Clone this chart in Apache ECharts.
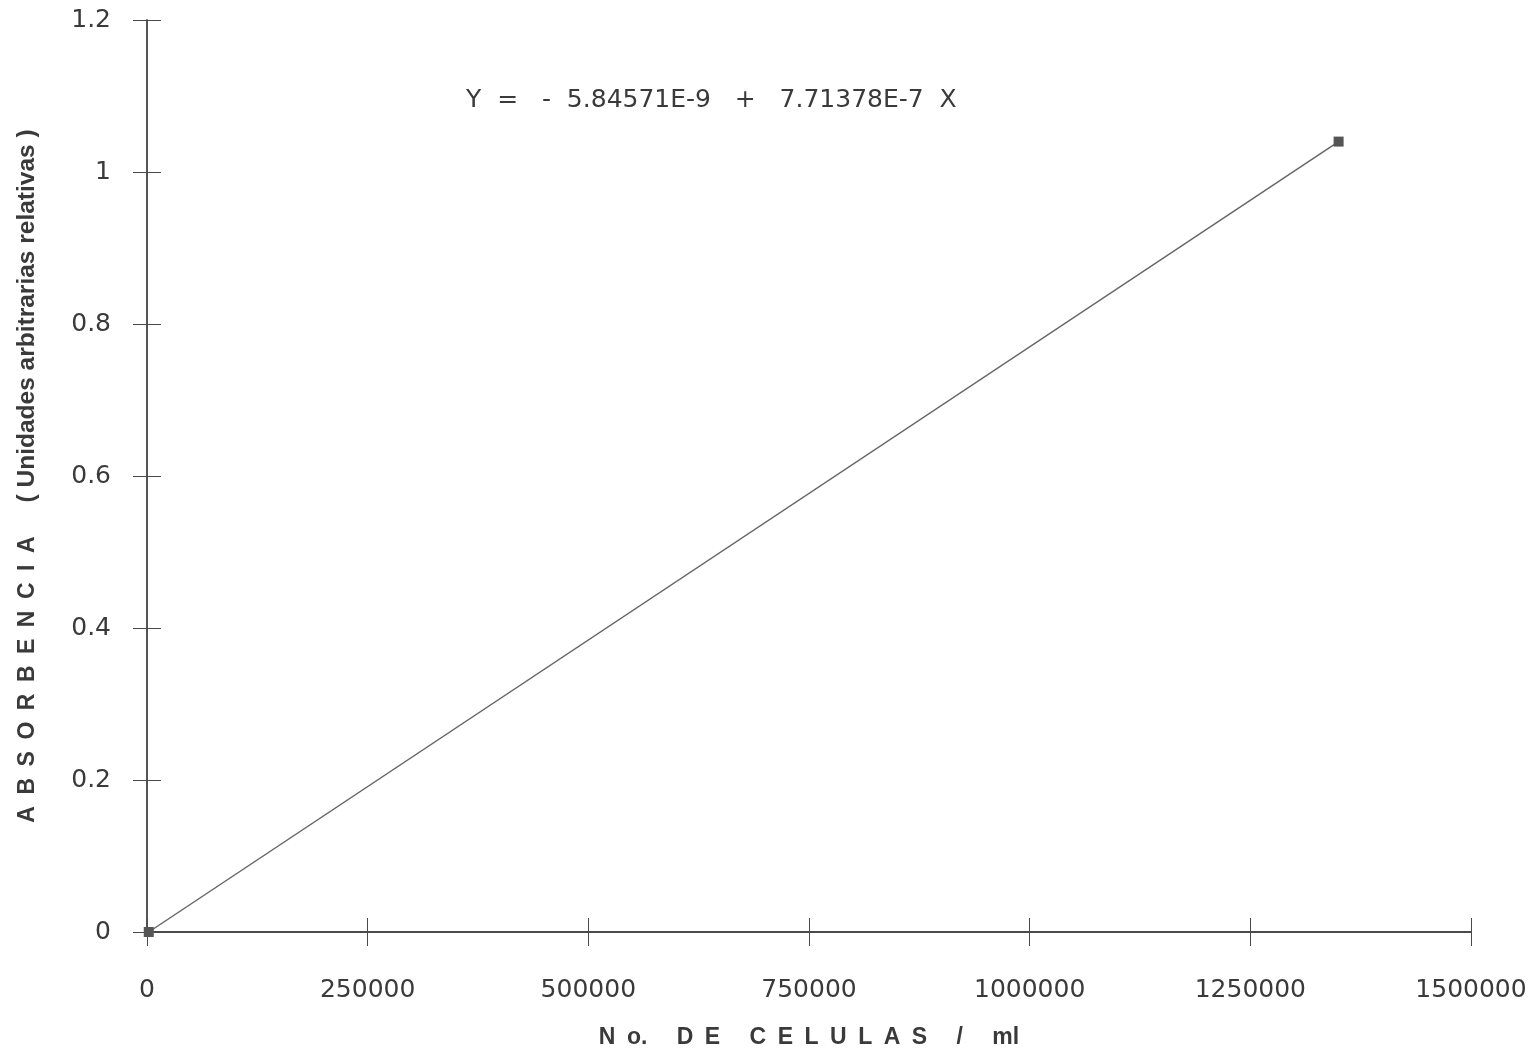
<!DOCTYPE html>
<html>
<head>
<meta charset="utf-8">
<style>
  html, body { margin: 0; padding: 0; background: #fff; }
  #chart { width: 1537px; height: 1054px; }
</style>
<script src="https://cdn.jsdelivr.net/npm/echarts@6/dist/echarts.min.js"></script>
</head>
<body>
<div id="chart"></div>
<script>
// Calibration data: cell count per ml vs. absorbance
const cellCounts = [2000, 1350000];
const absorbance = [0, 1.04];

const xTicks = [0, 250000, 500000, 750000, 1000000, 1250000, 1500000];
const yTicks = [0, 0.2, 0.4, 0.6, 0.8, 1, 1.2];

// Letter-spaced titles: en space between letters, wider gap between words
const EN = '\u2002', EM = '\u2003';
const spreadWord = w => w.split('').join(EN);

const equationText = 'Y  =   -  5.84571E-9   +   7.71378E-7  X';
const xTitleWords = ['N' + EN + 'o.', spreadWord('DE'), spreadWord('CELULAS'), '/', 'ml'];
const xTitle = xTitleWords.join(EM + ' ');
const yTitleMain = spreadWord('ABSORBENCIA');
const yTitleSub = '( Unidades arbitrarias relativas )';

const ink = '#3a3a3a';
const axisInk = '#4a4a4a';
const numFont = '"DejaVu Sans", Verdana, sans-serif';
const titleFont = '"Liberation Sans", Arial, sans-serif';

const points = cellCounts.map((c, i) => [c, absorbance[i]]);

const chart = echarts.init(document.getElementById('chart'), null, { renderer: 'canvas' });

const xBase = {
  type: 'value',
  min: xTicks[0],
  max: xTicks[xTicks.length - 1],
  interval: 250000,
  splitLine: { show: false },
  axisLine: { show: true, onZero: false, lineStyle: { color: axisInk, width: 1.8 } },
  axisTick: { show: true, length: 14, lineStyle: { color: axisInk, width: 1 } }
};
const yBase = {
  type: 'value',
  min: yTicks[0],
  max: yTicks[yTicks.length - 1],
  interval: 0.2,
  splitLine: { show: false },
  axisLine: { show: true, onZero: false, lineStyle: { color: axisInk, width: 1.5 } },
  axisTick: { show: true, length: 14, lineStyle: { color: axisInk, width: 1 } }
};

chart.setOption({
  animation: false,
  backgroundColor: '#fff',
  grid: { left: 147, right: 66, top: 20, bottom: 117, containLabel: false },
  xAxis: [
    Object.assign({}, xBase, {
      axisLabel: {
        color: ink, fontFamily: numFont, fontSize: 25, margin: 46,
        formatter: v => String(v)
      },
      name: xTitle,
      nameLocation: 'middle',
      nameGap: 94,
      nameTextStyle: { color: ink, fontFamily: titleFont, fontSize: 23, fontWeight: 'bold' }
    }),
    Object.assign({}, xBase, {
      position: 'bottom',
      axisTick: { show: true, inside: true, length: 14, lineStyle: { color: axisInk, width: 1 } },
      axisLabel: { show: false }
    })
  ],
  yAxis: [
    Object.assign({}, yBase, {
      axisLabel: {
        color: ink, fontFamily: numFont, fontSize: 25, margin: 36,
        formatter: v => String(Math.round(v * 10) / 10)
      },
      name: '{a|' + yTitleMain + '}{g|}{b|' + yTitleSub + '}',
      nameLocation: 'middle',
      nameRotate: 90,
      nameGap: 107,
      nameTextStyle: {
        rich: {
          a: { color: ink, fontFamily: titleFont, fontSize: 23, fontWeight: 'bold' },
          g: { width: 34 },
          b: { color: ink, fontFamily: titleFont, fontSize: 24.5, fontWeight: 'bold' }
        }
      }
    }),
    Object.assign({}, yBase, {
      position: 'left',
      axisTick: { show: true, inside: true, length: 14, lineStyle: { color: axisInk, width: 1 } },
      axisLabel: { show: false }
    })
  ],
  graphic: [{
    type: 'text',
    x: 466,
    y: 100,
    style: { text: equationText, fill: ink, font: '25px ' + numFont, verticalAlign: 'middle' }
  }],
  series: [{
    type: 'line',
    xAxisIndex: 0,
    yAxisIndex: 0,
    data: points,
    symbol: 'rect',
    symbolSize: 10,
    itemStyle: { color: '#555' },
    lineStyle: { color: '#666', width: 1.5 },
    z: 5
  }]
});
</script>
</body>
</html>
